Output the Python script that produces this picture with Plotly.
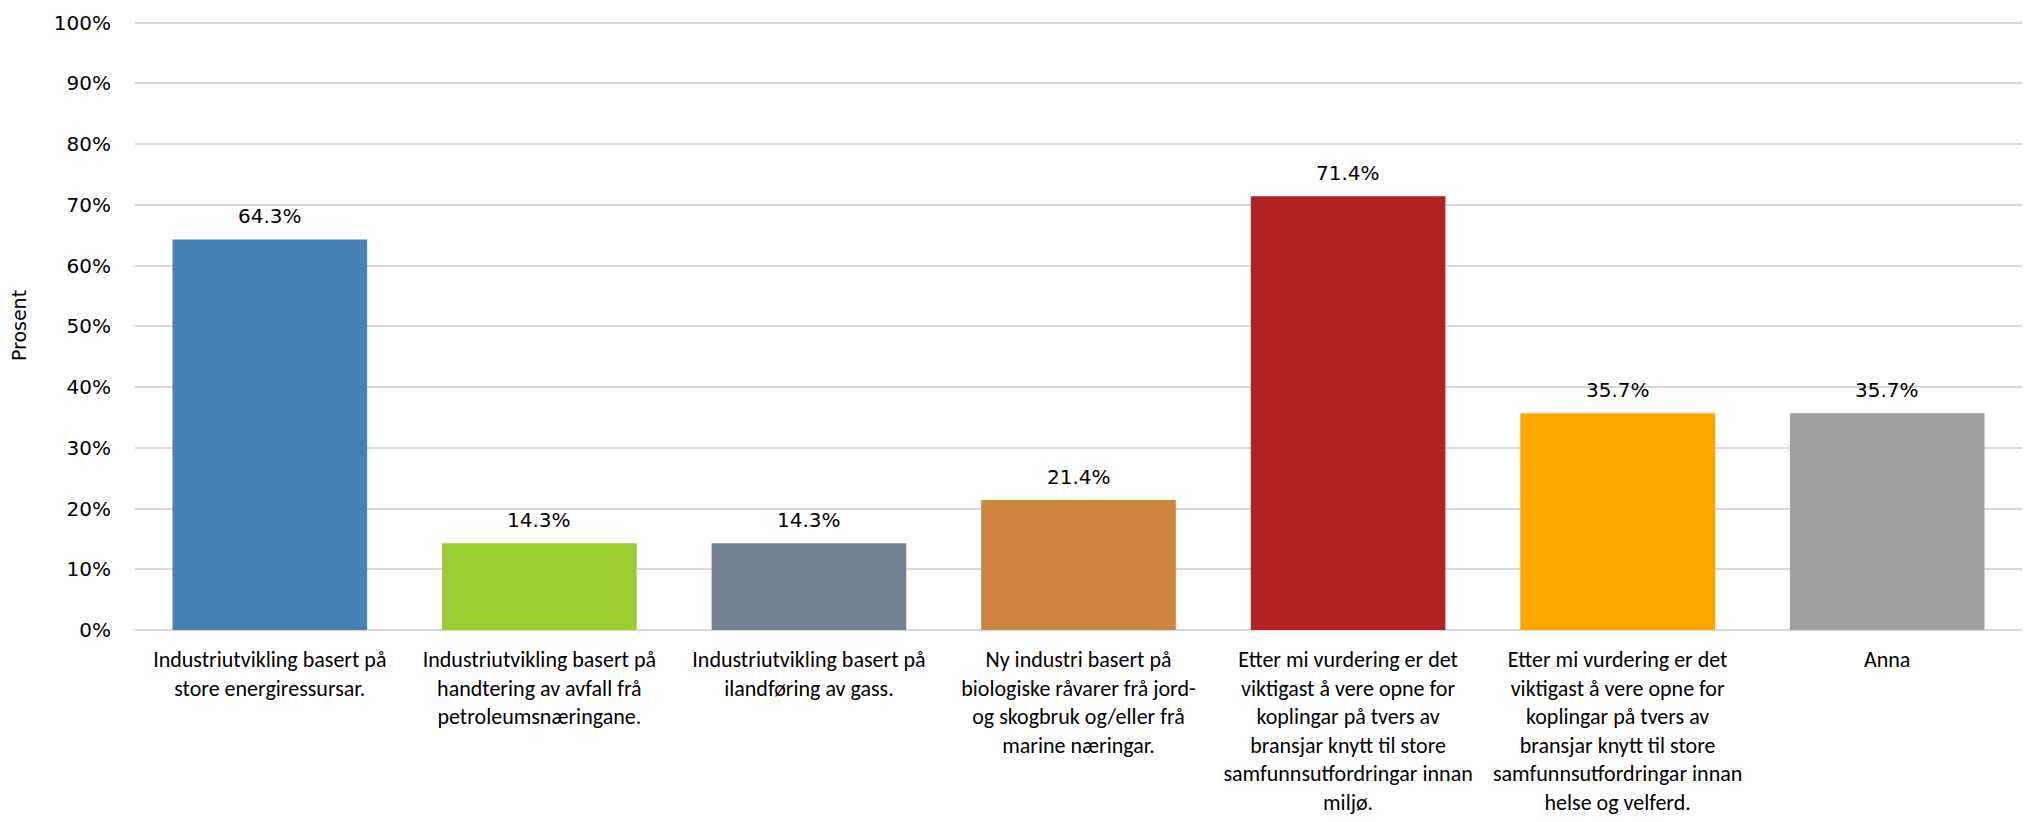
import plotly.graph_objects as go

categories = [
    "Industriutvikling basert på<br>store energiressursar.",
    "Industriutvikling basert på<br>handtering av avfall frå<br>petroleumsnæringane.",
    "Industriutvikling basert på<br>ilandføring av gass.",
    "Ny industri basert på<br>biologiske råvarer frå jord-<br>og skogbruk og/eller frå<br>marine næringar.",
    "Etter mi vurdering er det<br>viktigast å vere opne for<br>koplingar på tvers av<br>bransjar knytt til store<br>samfunnsutfordringar innan<br>miljø.",
    "Etter mi vurdering er det<br>viktigast å vere opne for<br>koplingar på tvers av<br>bransjar knytt til store<br>samfunnsutfordringar innan<br>helse og velferd.",
    "Anna",
]
values = [64.3, 14.3, 14.3, 21.4, 71.4, 35.7, 35.7]
colors = ["#4682B4", "#9ACD32", "#708090", "#CD853F", "#B22222", "#FFA500", "#A0A0A0"]
tick_vals = [0, 10, 20, 30, 40, 50, 60, 70, 80, 90, 100]
tick_text = [f"{v}%" for v in tick_vals]

fig = go.Figure(
    go.Bar(
        x=categories,
        y=values,
        marker=dict(color=colors, line=dict(width=0)),
        showlegend=False,
        hoverinfo="x+y",
    )
)

for c, v in zip(categories, values):
    fig.add_annotation(
        x=c, y=v, text=f"{v:.1f}%", showarrow=False,
        yanchor="bottom", yshift=9,
        font=dict(family="DejaVu Sans", size=20, color="#000000"),
    )

fig.update_layout(
    width=2042,
    height=822,
    paper_bgcolor="white",
    plot_bgcolor="white",
    margin=dict(l=135, r=20, t=21, b=192),
    bargap=0.278,
    font=dict(family="DejaVu Sans", size=19, color="#000000"),
)
fig.update_xaxes(
    tickfont=dict(family="Carlito, Calibri, Lato", size=22, color="#000000"),
    showgrid=False,
    showline=False,
    ticks="",
    ticklabelstandoff=14,
    automargin=False,
)
fig.update_yaxes(
    range=[0, 100.25],
    tickvals=tick_vals,
    ticktext=tick_text,
    tickfont=dict(family="DejaVu Sans", size=20, color="#000000"),
    showgrid=True,
    gridcolor="#D9D9D9",
    gridwidth=2,
    zeroline=True,
    zerolinecolor="#D9D9D9",
    zerolinewidth=2,
    showline=False,
    ticks="",
    ticklabelstandoff=23,
    automargin=False,
    title=dict(text="Prosent", font=dict(family="DejaVu Sans", size=19, color="#000000"), standoff=22),
)

fig.write_html(
    "out.html",
    config={"displayModeBar": False},
    post_script="document.body.style.margin='0';",
)
